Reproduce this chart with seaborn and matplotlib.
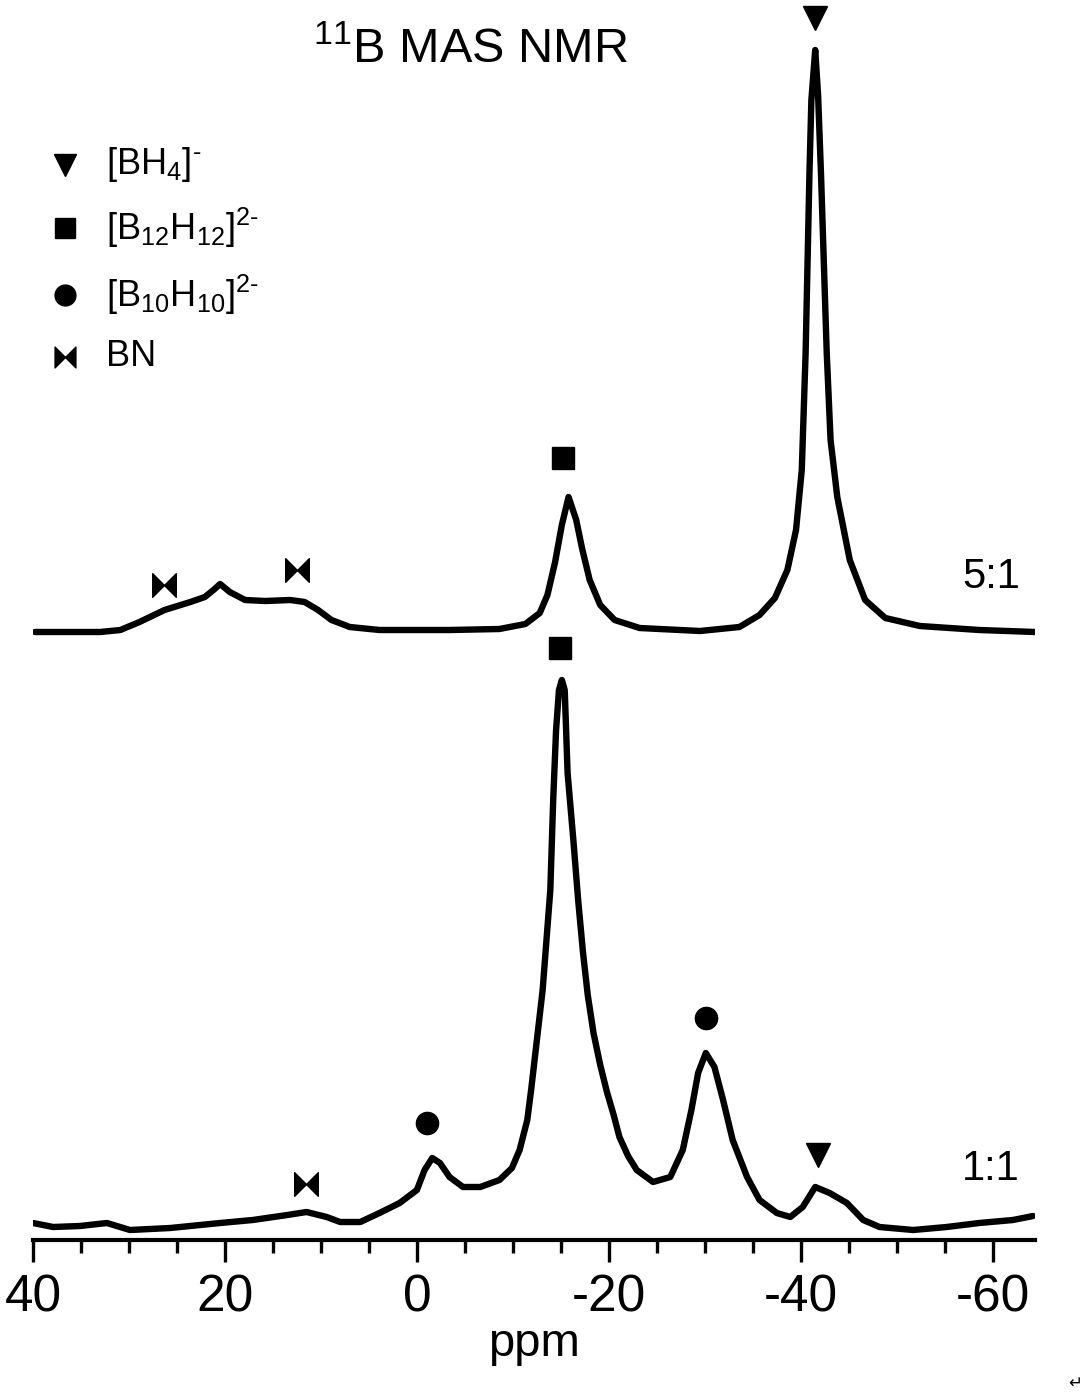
import numpy as np
import pandas as pd
import matplotlib
matplotlib.use("Agg")
import matplotlib.pyplot as plt
from matplotlib.path import Path
import seaborn as sns

# ---------------- data ----------------
# 1:1 sample, chemical shift (ppm) and intensity (a.u.)
ppm_11 = [40.0, 37.9, 35.1, 32.3, 29.9, 25.7, 20.5, 17.1, 13.5, 11.5, 9.4, 8.0, 5.9, 3.9,
          1.8, 0.0, -0.8, -1.6, -2.4, -3.4, -4.8, -6.6, -8.6, -9.9, -10.7, -11.5, -11.9,
          -12.5, -13.1, -13.5, -13.9, -14.2, -14.5, -14.8, -15.1, -15.4, -15.7, -16.3,
          -16.8, -17.3, -17.8, -18.4, -19.1, -19.8, -20.5, -21.1, -22.0, -22.9, -24.6,
          -26.4, -27.7, -28.6, -29.3, -30.1, -31.0, -31.9, -32.9, -34.4, -35.7, -37.5,
          -38.9, -40.2, -41.5, -43.0, -44.8, -46.5, -48.2, -51.7, -55.2, -58.6, -62.1,
          -64.2]
int_11 = [17, 13, 14, 17, 10, 12, 17, 20, 25, 28, 23, 18, 18, 27,
          37, 50, 70, 82, 77, 63, 53, 53, 60, 72, 90, 120, 150,
          200, 250, 300, 350, 440, 510, 550, 560, 550, 467, 400,
          340, 288, 245, 207, 175, 148, 125, 103, 84, 70, 58,
          63, 90, 130, 167, 187, 173, 140, 100, 63, 40, 27,
          23, 33, 53, 47, 37, 20, 13, 10, 13, 17, 20,
          24]

# 5:1 sample
ppm_51 = [39.8, 33.0, 30.9, 28.9, 26.3, 23.6, 22.1, 21.2, 20.5, 19.5, 17.9, 15.8, 13.2,
          11.7, 10.3, 8.9, 7.0, 3.9, -3.4, -8.6, -11.3, -12.8, -13.6, -14.4, -15.1,
          -15.8, -16.6, -17.2, -18.0, -19.1, -20.6, -23.2, -29.5, -33.6, -35.7, -37.3,
          -38.6, -39.5, -40.1, -40.5, -40.7, -40.9, -41.1, -41.5, -41.8, -42.1, -42.4,
          -42.7, -43.1, -43.8, -45.1, -46.7, -48.8, -52.4, -58.6, -64.4]
int_51 = [18, 18, 20, 28, 40, 48, 53, 60, 66, 58, 50, 49, 50,
          48, 40, 30, 23, 20, 20, 21, 26, 37, 55, 88, 125,
          153, 130, 102, 70, 45, 30, 22, 19, 23, 35, 52,
          80, 120, 180, 297, 387, 477, 550, 600, 555, 477, 387,
          297, 210, 153, 90, 50, 32, 24, 20, 18]

offset_51 = 590  # vertical stacking offset of the 5:1 trace

sample_labels = ["1:1", "5:1"]
label_ppm = [-59.8, -59.8]
label_int = [51, 643]

# peak assignment markers (ppm, intensity incl. offset)
bh4_ppm = [-41.5, -41.8]
bh4_int = [1222, 85]
b12_ppm = [-15.2, -14.9]
b12_int = [782, 592]
b10_ppm = [-1.0, -30.1]
b10_int = [117, 222]
bn_ppm = [26.35, 12.5, 11.6]
bn_int = [655, 670, 56]

HY = "\u2010"
legend_labels = [r"[BH$_4$]$^{" + HY + "}$", r"[B$_{12}$H$_{12}$]$^{2" + HY + "}$",
                 r"[B$_{10}$H$_{10}$]$^{2" + HY + "}$", "BN"]

x_major = [40, 20, 0, -20, -40, -60]
x_minor = list(range(40, -65, -5))

# ---------------- style ----------------
sns.set_theme(style="white")
plt.rcParams["font.family"] = ["Liberation Sans", "DejaVu Sans"]
plt.rcParams["axes.unicode_minus"] = False
plt.rcParams["mathtext.fontset"] = "custom"
plt.rcParams["mathtext.rm"] = "Liberation Sans"
plt.rcParams["mathtext.it"] = "Liberation Sans"
plt.rcParams["mathtext.default"] = "regular"
plt.rcParams["text.color"] = "black"
plt.rcParams["axes.labelcolor"] = "black"
plt.rcParams["xtick.color"] = "black"

bowtie = Path([(-1, 1), (0, 0), (1, 1), (1, -1), (0, 0), (-1, -1), (-1, 1)],
              [Path.MOVETO, Path.LINETO, Path.LINETO, Path.LINETO, Path.LINETO,
               Path.LINETO, Path.CLOSEPOLY])

fig = plt.figure(figsize=(10.89, 13.96), dpi=100)
ax = fig.add_axes([33 / 1089, 156 / 1396, 1002 / 1089, 1240 / 1396])

df11 = pd.DataFrame({"ppm": ppm_11, "intensity": int_11})
df51 = pd.DataFrame({"ppm": ppm_51, "intensity": np.array(int_51) + offset_51})
for d in (df11, df51):
    sns.lineplot(data=d, x="ppm", y="intensity", ax=ax, color="black",
                 linewidth=4.6, estimator=None, sort=True,
                 solid_joinstyle="round", solid_capstyle="round")

# peak markers
ax.plot(bh4_ppm, bh4_int, linestyle="none", marker="v", ms=17, color="black")
ax.plot(b12_ppm, b12_int, linestyle="none", marker="s", ms=16, color="black")
ax.plot(b10_ppm, b10_int, linestyle="none", marker="o", ms=16, color="black")
ax.plot(bn_ppm, bn_int, linestyle="none", marker=bowtie, ms=17, color="black")

# sample labels
for lab, xp, yp in zip(sample_labels, label_ppm, label_int):
    ax.text(xp, yp, lab, fontsize=30, ha="center", va="bottom", color="black")

# legend (manual, as in the figure)
leg_markers = ["v", "s", "o", bowtie]
leg_ms = [16, 15, 15, 15]
leg_y = [1075, 1012, 945, 883]
for m, s, yy, lab in zip(leg_markers, leg_ms, leg_y, legend_labels):
    ax.plot([36.7], [yy], linestyle="none", marker=m, ms=s, color="black")
    ax.text(32.4, yy, lab, fontsize=26, ha="left", va="center", color="black")

# title
ax.text(-5.6, 1167, r"$^{11}$B MAS NMR", fontsize=35, ha="center", va="bottom")

ax.set_xlim(40, -64.4)
ax.set_ylim(0, 1240)
ax.set_xticks(x_major)
ax.set_xticks(x_minor, minor=True)
ax.set_xticklabels([str(v) for v in x_major])
ax.set_yticks([])
ax.set_ylabel("")
ax.set_xlabel("ppm", fontsize=34, labelpad=0)
for sp in ["left", "right", "top"]:
    ax.spines[sp].set_visible(False)
ax.spines["bottom"].set_linewidth(3)
ax.spines["bottom"].set_color("black")
ax.tick_params(axis="x", which="major", direction="out", length=16, width=2.4,
               labelsize=37, pad=8, colors="black", bottom=True)
ax.tick_params(axis="x", which="minor", direction="out", length=9, width=2.4,
               bottom=True)
ax.patch.set_alpha(0)

fig.text(1075 / 1089, 1 - 1383 / 1396, "\u21b5", fontsize=12, ha="center",
         va="center", family="DejaVu Sans")

fig.savefig("out.png", dpi=100)
